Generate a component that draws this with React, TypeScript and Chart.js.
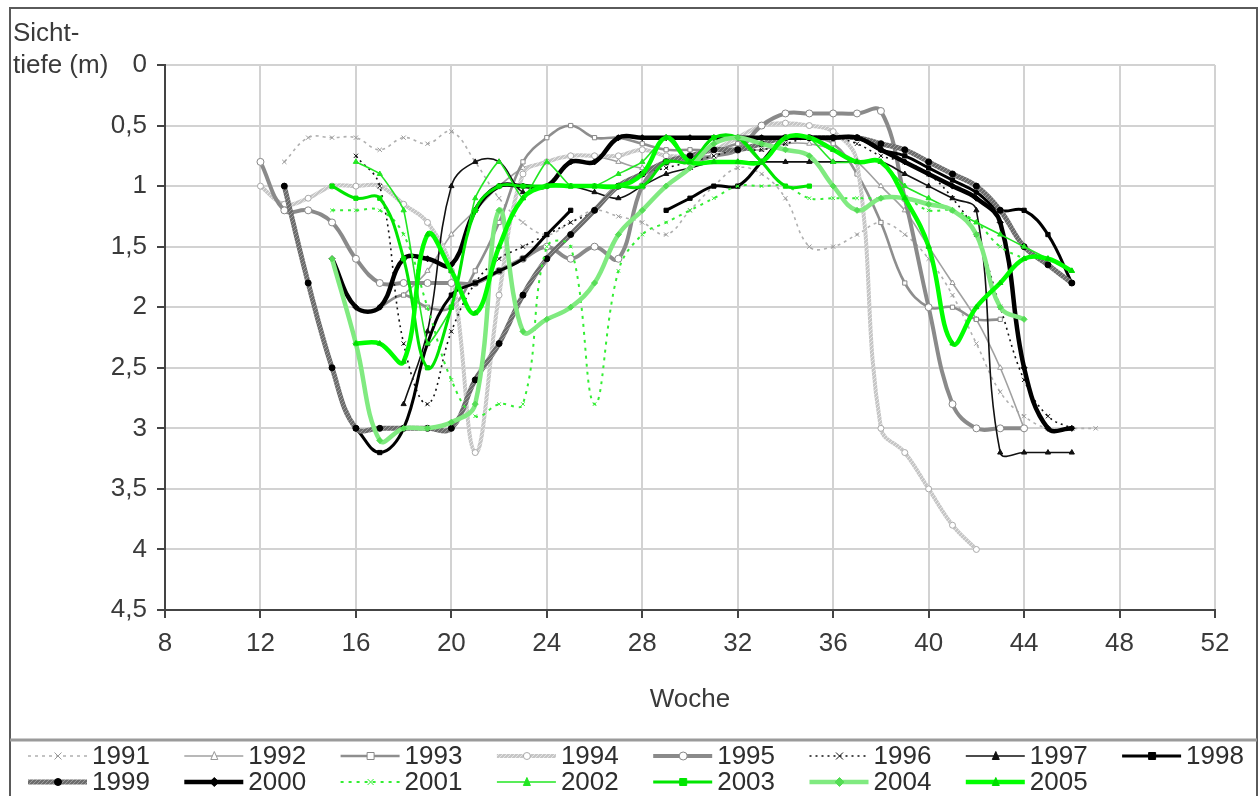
import React, { useEffect, useRef } from 'react';
import { Chart, registerables } from 'chart.js';

Chart.register(...registerables);

// ---------- data ----------
const WEEKS = [12, 13, 14, 15, 16, 17, 18, 19, 20, 21, 22, 23, 24, 25, 26, 27, 28, 29, 30, 31, 32, 33, 34, 35, 36, 37, 38, 39, 40, 41, 42, 43, 44, 45, 46, 47];
const YEARS = ['1991', '1992', '1993', '1994', '1995', '1996', '1997', '1998', '1999', '2000', '2001', '2002', '2003', '2004', '2005'];

const D1991 = [null, 0.8, 0.6, 0.6, 0.6, 0.7, 0.6, 0.65, 0.55, 0.8, 1.1, 1.3, 1.4, 1.3, 1.2, 1.25, 1.3, 1.4, 1.2, 1.0, 0.85, 0.9, 1.1, 1.5, 1.5, 1.4, 1.3, 1.4, 1.6, 1.9, 2.3, 2.7, 2.9, 3.0, 3.0, 3.0];
const D1992 = [null, null, null, null, null, null, 1.9, 1.7, 1.4, 1.2, 1.0, 0.85, 0.8, 0.75, 0.75, 0.8, 0.85, 0.8, 0.75, 0.75, 0.7, 0.7, 0.65, 0.65, 0.7, 0.8, 1.0, 1.2, 1.5, 1.8, 2.1, 2.5, 3.0, null, null, null];
const D1993 = [null, null, null, null, null, 2.0, 1.9, 2.0, 2.0, 1.7, 1.3, 0.8, 0.6, 0.5, 0.6, 0.6, 0.65, 0.7, 0.7, 0.7, 0.65, 0.6, 0.6, 0.6, 0.65, 0.9, 1.3, 1.8, 2.0, 2.0, 2.1, 2.1, null, null, null, null];
const D1994 = [1.0, 1.15, 1.1, 1.0, 1.0, 1.0, 1.15, 1.3, 1.7, 3.2, 1.9, 0.9, 0.8, 0.75, 0.75, 0.75, 0.7, 0.75, 0.75, 0.7, 0.6, 0.5, 0.48, 0.5, 0.55, 0.8, 3.0, 3.2, 3.5, 3.8, 4.0, null, null, null, null, null];
const D1995 = [0.8, 1.2, 1.2, 1.3, 1.6, 1.8, 1.8, 1.8, 1.8, 1.8, 1.7, 1.6, 1.5, 1.6, 1.5, 1.6, 1.0, 0.8, 0.8, 0.75, 0.7, 0.5, 0.4, 0.4, 0.4, 0.4, 0.38, 1.1, 2.0, 2.8, 3.0, 3.0, 3.0, null, null, null];
const D1996 = [null, null, null, null, 0.75, 1.0, 2.3, 2.8, 2.2, 1.8, 1.6, 1.5, 1.4, 1.3, 1.2, 1.0, 0.9, 0.85, 0.8, 0.75, 0.7, 0.7, 0.65, 0.6, 0.6, 0.65, 0.75, 0.8, 0.9, 1.1, 1.4, 2.0, 2.6, 2.9, 3.0, null];
const D1997 = [null, null, null, null, null, null, 2.8, 2.2, 1.0, 0.8, 0.8, 1.05, 1.0, 1.0, 1.05, 1.1, 1.0, 0.9, 0.85, 0.8, 0.8, 0.8, 0.8, 0.8, 0.8, 0.8, 0.8, 0.9, 1.0, 1.1, 1.2, 3.2, 3.2, 3.2, 3.2, null];
const D1998 = [null, null, null, null, 3.0, 3.2, 3.0, 2.3, 1.9, 1.8, 1.7, 1.6, 1.4, 1.2, null, null, null, 1.2, 1.1, 1.0, 1.0, 0.8, 0.6, 0.6, 0.6, 0.6, 0.7, 0.75, 0.85, 0.95, 1.05, 1.2, 1.2, 1.4, 1.8, null];
const D1999 = [null, 1.0, 1.8, 2.5, 3.0, 3.0, 3.0, 3.0, 3.0, 2.6, 2.3, 1.9, 1.6, 1.4, 1.2, 1.0, 0.9, 0.8, 0.75, 0.7, 0.7, 0.65, 0.6, 0.6, 0.6, 0.6, 0.65, 0.7, 0.8, 0.9, 1.0, 1.2, 1.5, 1.65, 1.8, null];
const D2000 = [null, null, null, 1.6, 2.0, 2.0, 1.6, 1.6, 1.65, 1.2, 1.0, 1.0, 1.0, 0.8, 0.8, 0.6, 0.6, 0.6, 0.6, 0.6, 0.6, 0.6, 0.6, 0.6, 0.6, 0.6, 0.7, 0.8, 0.9, 1.0, 1.1, 1.3, 2.5, 3.0, 3.0, null];
const D2001 = [null, null, null, 1.2, 1.2, 1.2, 1.4, 2.0, 2.6, 2.9, 2.8, 2.8, 1.5, 1.5, 2.8, 1.7, 1.4, 1.3, 1.2, 1.1, 1.0, 1.0, 1.0, 1.1, 1.1, 1.1, 1.1, 1.1, 1.2, 1.2, 1.3, 1.5, 1.6, null, null, null];
const D2002 = [null, null, null, null, 0.8, 0.9, 1.2, 2.3, 2.0, 1.1, 0.8, 1.1, 0.8, 1.0, 1.0, 0.9, 0.8, 0.6, 0.8, 0.6, 0.6, 0.8, 0.6, 0.6, 0.8, 0.8, 0.8, 1.0, 1.1, 1.2, 1.3, 1.4, 1.5, 1.6, 1.7, null];
const D2003 = [null, null, null, 1.0, 1.1, 1.1, 1.6, 2.5, 2.0, 1.2, 1.0, 1.0, 1.0, 1.0, 1.0, 1.0, 1.0, 0.8, 0.8, 0.6, 0.6, 0.8, 1.0, 1.0, null, null, null, null, null, null, null, null, null, null, null, null];
const D2004 = [null, null, null, 1.6, 2.3, 3.1, 3.0, 3.0, 2.95, 2.8, 1.2, 2.2, 2.1, 2.0, 1.8, 1.4, 1.2, 1.0, 0.85, 0.65, 0.6, 0.65, 0.7, 0.75, 1.0, 1.2, 1.1, 1.1, 1.15, 1.2, 1.4, 2.0, 2.1, null, null, null];
const D2005 = [null, null, null, null, 2.3, 2.3, 2.45, 1.4, 1.7, 2.05, 1.5, 1.1, 1.0, 1.0, 1.0, 1.0, 0.9, 0.6, 0.8, 0.8, 0.8, 0.8, 0.6, 0.6, 0.7, 0.8, 0.8, 1.1, 1.5, 2.3, 2.0, 1.8, 1.6, 1.6, 1.7, null];

const SERIES = [D1991, D1992, D1993, D1994, D1995, D1996, D1997, D1998, D1999, D2000, D2001, D2002, D2003, D2004, D2005];

const X_MIN = 8;
const X_MAX = 52;
const X_STEP = 4;
const Y_MIN = 0;
const Y_MAX = 4.5;
const Y_STEP = 0.5;

const Y_TITLE = ['Sicht-', 'tiefe (m)'];
const X_TITLE = 'Woche';

// ---------- styles ----------
const FONT = '"Liberation Sans", Arial, sans-serif';
const FS = 26;

type Sty = {
  color: string;
  light?: string;
  width: number;
  dash?: number[];
  point: string;
  pr: number;
  pFill: string;
  pStroke: string;
  tension: number;
};

const STYLES: Sty[] = [
  { color: '#b0b0b0', width: 1.6, dash: [3, 4], point: 'crossRot', pr: 3, pFill: '#999', pStroke: '#999', tension: 0.4 },
  { color: '#a0a0a0', width: 1.6, point: 'triangle', pr: 3, pFill: '#fff', pStroke: '#999', tension: 0.3 },
  { color: '#8e8e8e', width: 2.6, point: 'rect', pr: 3, pFill: '#fff', pStroke: '#888', tension: 0.4 },
  { color: '#c6c6c6', light: '#e6e6e6', width: 4, point: 'circle', pr: 3, pFill: '#fff', pStroke: '#aaa', tension: 0.4 },
  { color: '#8a8a8a', width: 4, point: 'circle', pr: 3.5, pFill: '#fff', pStroke: '#888', tension: 0.4 },
  { color: '#111', width: 1.6, dash: [2, 4], point: 'crossRot', pr: 3, pFill: '#111', pStroke: '#111', tension: 0.4 },
  { color: '#111', width: 1.6, point: 'triangle', pr: 3, pFill: '#111', pStroke: '#111', tension: 0.4 },
  { color: '#000', width: 3, point: 'rect', pr: 3, pFill: '#000', pStroke: '#000', tension: 0.4 },
  { color: '#6c6c6c', light: '#9c9c9c', width: 5, point: 'circle', pr: 3, pFill: '#000', pStroke: '#000', tension: 0.4 },
  { color: '#000', width: 4.5, point: 'rectRot', pr: 3, pFill: '#000', pStroke: '#000', tension: 0.4 },
  { color: '#33ee33', width: 2, dash: [3, 5], point: 'crossRot', pr: 2.5, pFill: '#33ee33', pStroke: '#33ee33', tension: 0.4 },
  { color: '#22e622', width: 1.6, point: 'triangle', pr: 3, pFill: '#22e622', pStroke: '#22e622', tension: 0.15 },
  { color: '#00e600', width: 3, point: 'rect', pr: 3, pFill: '#00e600', pStroke: '#00e600', tension: 0.4 },
  { color: '#80ea80', width: 4.5, point: 'rectRot', pr: 3, pFill: '#55dd55', pStroke: '#55dd55', tension: 0.4 },
  { color: '#00ff00', width: 4.5, point: 'triangle', pr: 3, pFill: '#00dd00', pStroke: '#00dd00', tension: 0.4 },
];

function makePattern(base: string, light: string): CanvasPattern | string {
  const c = document.createElement('canvas');
  c.width = 4;
  c.height = 4;
  const g = c.getContext('2d');
  if (!g) return base;
  g.fillStyle = base;
  g.fillRect(0, 0, 4, 4);
  g.fillStyle = light;
  g.fillRect(0, 0, 1, 1);
  g.fillRect(2, 2, 1, 1);
  g.fillRect(1, 3, 1, 1);
  g.fillRect(3, 1, 1, 1);
  return g.createPattern(c, 'repeat') || base;
}

function drawMarker(ctx: CanvasRenderingContext2D, s: Sty, x: number, y: number) {
  const r = s.pr + 0.5;
  ctx.save();
  ctx.setLineDash([]);
  ctx.fillStyle = s.pFill;
  ctx.strokeStyle = s.pStroke;
  ctx.lineWidth = 1;
  ctx.beginPath();
  if (s.point === 'circle') {
    ctx.arc(x, y, r, 0, Math.PI * 2);
    ctx.fill();
    ctx.stroke();
  } else if (s.point === 'rect') {
    ctx.rect(x - r, y - r, 2 * r, 2 * r);
    ctx.fill();
    ctx.stroke();
  } else if (s.point === 'rectRot') {
    ctx.moveTo(x, y - r - 1);
    ctx.lineTo(x + r + 1, y);
    ctx.lineTo(x, y + r + 1);
    ctx.lineTo(x - r - 1, y);
    ctx.closePath();
    ctx.fill();
    ctx.stroke();
  } else if (s.point === 'triangle') {
    ctx.moveTo(x, y - r - 1);
    ctx.lineTo(x + r, y + r);
    ctx.lineTo(x - r, y + r);
    ctx.closePath();
    ctx.fill();
    ctx.stroke();
  } else {
    ctx.moveTo(x - r, y - r);
    ctx.lineTo(x + r, y + r);
    ctx.moveTo(x + r, y - r);
    ctx.lineTo(x - r, y + r);
    ctx.stroke();
  }
  ctx.restore();
}

const decorPlugin = {
  id: 'decor',
  beforeDraw(chart: any) {
    const ctx: CanvasRenderingContext2D = chart.ctx;
    ctx.save();
    ctx.fillStyle = '#fff';
    ctx.fillRect(0, 0, chart.width, chart.height);
    ctx.strokeStyle = '#5a5a5a';
    ctx.lineWidth = 2;
    ctx.strokeRect(10, 8, 1247, 800);
    ctx.strokeStyle = '#9a9a9a';
    ctx.lineWidth = 3;
    ctx.beginPath();
    ctx.moveTo(10, 740);
    ctx.lineTo(1257, 740);
    ctx.stroke();
    ctx.restore();
  },
  afterDraw(chart: any) {
    const ctx: CanvasRenderingContext2D = chart.ctx;
    ctx.save();
    ctx.fillStyle = '#3a3a3a';
    ctx.font = `${FS}px ${FONT}`;
    ctx.textBaseline = 'middle';
    ctx.textAlign = 'left';
    ctx.fillText(Y_TITLE[0], 13, 34);
    ctx.fillText(Y_TITLE[1], 13, 66);
    ctx.textAlign = 'center';
    const ca = chart.chartArea;
    ctx.fillText(X_TITLE, (ca.left + ca.right) / 2, 700);

    // legend
    const x0 = 92;
    const dx = 156.3;
    const rows = [756, 782];
    ctx.textAlign = 'left';
    chart.data.datasets.forEach((ds: any, i: number) => {
      const s = STYLES[i];
      const col = i % 8;
      const row = i < 8 ? 0 : 1;
      const tx = x0 + col * dx;
      const y = rows[row];
      ctx.save();
      ctx.strokeStyle = ds.borderColor;
      ctx.lineWidth = s.width;
      ctx.setLineDash(s.dash || []);
      ctx.beginPath();
      ctx.moveTo(tx - 64, y);
      ctx.lineTo(tx - 5, y);
      ctx.stroke();
      ctx.restore();
      drawMarker(ctx, s, tx - 34, y);
      ctx.fillStyle = '#2e2e2e';
      ctx.fillText(ds.label, tx, y + 1);
    });
    ctx.restore();
  },
};

export default function App() {
  const ref = useRef<HTMLCanvasElement | null>(null);

  useEffect(() => {
    const canvas = ref.current;
    if (!canvas) return;
    const datasets = SERIES.map((vals, i) => {
      const s = STYLES[i];
      const col = s.light ? makePattern(s.color, s.light) : s.color;
      return {
        label: YEARS[i],
        data: WEEKS.map((w, k) => ({ x: w, y: vals[k] })),
        borderColor: col,
        backgroundColor: s.color,
        borderWidth: s.width,
        borderDash: s.dash || [],
        pointStyle: s.point,
        pointRadius: s.pr,
        pointBackgroundColor: s.pFill,
        pointBorderColor: s.pStroke,
        pointBorderWidth: 1,
        tension: s.tension,
        spanGaps: false,
        fill: false,
        order: SERIES.length - i,
      };
    });

    const chart = new Chart(canvas, {
      type: 'line',
      data: { datasets } as any,
      options: {
        responsive: false,
        animation: false,
        devicePixelRatio: 1,
        layout: { padding: { left: 0, right: 45, top: 65, bottom: 0 } },
        plugins: {
          legend: { display: false },
          tooltip: { enabled: false },
          title: { display: false },
        },
        scales: {
          x: {
            type: 'linear',
            min: X_MIN,
            max: X_MAX,
            ticks: {
              stepSize: X_STEP,
              font: { family: FONT, size: FS },
              color: '#3a3a3a',
              padding: 10,
              maxRotation: 0,
              autoSkip: false,
            },
            grid: { color: '#d2d2d2', lineWidth: 2, tickLength: 8, tickColor: '#444', tickWidth: 2 },
            border: { color: '#444', width: 2 },
            afterFit: (scale: any) => {
              scale.height = 186;
            },
          },
          y: {
            type: 'linear',
            reverse: true,
            min: Y_MIN,
            max: Y_MAX,
            ticks: {
              stepSize: Y_STEP,
              font: { family: FONT, size: FS },
              color: '#3a3a3a',
              padding: 10,
              callback: (v: any) => String(v).replace('.', ','),
            },
            grid: { color: '#d2d2d2', lineWidth: 2, tickLength: 8, tickColor: '#444', tickWidth: 2 },
            border: { color: '#444', width: 2 },
            afterFit: (scale: any) => {
              scale.width = 165;
            },
          },
        },
      } as any,
      plugins: [decorPlugin],
    });
    return () => chart.destroy();
  }, []);

  return (
    <div style={{ position: 'absolute', left: 0, top: 0, width: 1260, height: 796, background: '#fff' }}>
      <canvas ref={ref} width={1260} height={796} style={{ display: 'block', width: 1260, height: 796 }} />
    </div>
  );
}
